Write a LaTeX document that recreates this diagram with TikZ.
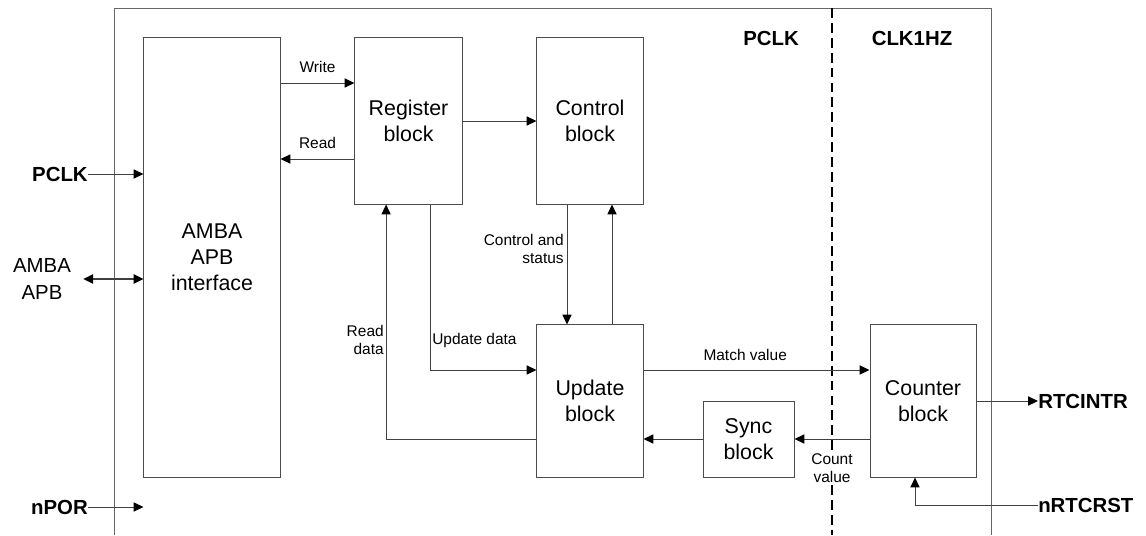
\documentclass[tikz,border=0pt]{standalone}
\usepackage{fontspec}
\setmainfont{Liberation Sans}
\usetikzlibrary{arrows.meta}

\tikzset{
  blk/.style={draw=black!70, line width=0.7pt, inner sep=0pt, align=center,
    font=\fontsize{15.2}{18.5}\selectfont},
  lbl/.style={inner sep=0pt, align=center, font=\fontsize{11}{12.8}\selectfont},
  pin/.style={inner sep=0pt, font=\fontsize{14.5}{17}\selectfont\bfseries},
  sig/.style={->, draw=black!75, line width=0.6pt},
}

\begin{document}
\begin{tikzpicture}[x=0.025cm,y=-0.025cm,
    >={Triangle[length=7pt,width=6.5pt,color=black]}]
  \useasboundingbox (0,0) rectangle (1146,535);
  % outline and clock domains
  \draw[black!60, line width=0.7pt] (114,535) -- (114,8) -- (991,8) -- (991,535);
  \draw[line width=1.9pt, dash pattern=on 7pt off 3.6pt] (832,8) -- (832,535);
  \node[pin] (pclkdom) at (771,38) {PCLK};
  \node[pin] (clkdom) at (912,38) {CLK1HZ};

  % blocks
  \node[blk, minimum width=3.4cm, minimum height=10.975cm] (amba) at (212,257.5) {AMBA\\APB\\interface};
  \node[blk, minimum width=2.675cm, minimum height=4.15cm] (reg) at (408.5,121) {Register\\block};
  \node[blk, minimum width=2.65cm, minimum height=4.15cm] (ctrl) at (590,121) {Control\\block};
  \node[blk, minimum width=2.65cm, minimum height=3.8cm] (upd) at (590,401) {Update\\block};
  \node[blk, minimum width=2.275cm, minimum height=1.9cm] (sync) at (748.5,439) {Sync\\block};
  \node[blk, minimum width=2.65cm, minimum height=3.8cm] (cnt) at (923,401) {Counter\\block};

  % pins
  \node[pin, anchor=east] (pclk) at (88,174) {PCLK};
  \node[align=center, inner sep=0pt, font=\fontsize{14.5}{19}\selectfont] (apbbus) at (42,279) {AMBA\\APB};
  \node[pin, anchor=east] (npor) at (88,507) {nPOR};
  \node[pin, anchor=west] (rtcintr) at (1038,401) {RTCINTR};
  \node[pin, anchor=west] (nrtcrst) at (1038,505) {nRTCRST};

  \draw[sig] (pclk.east) -- (amba.west |- pclk.east);
  \draw[sig, <->, line width=1.2pt] ([xshift=0.3cm]apbbus.east) -- (amba.west |- apbbus.east);
  \draw[sig] (npor.east) -- (amba.west |- npor.east);

  % bus side
  \coordinate (wr) at ([yshift=0.95cm]reg.west);
  \coordinate (rd) at ([yshift=-0.95cm]reg.west);
  \draw[sig] (amba.east |- wr) -- node[lbl, above=7pt] {Write} (wr);
  \draw[sig] (rd) -- node[lbl, above=7pt] {Read} (amba.east |- rd);
  \draw[sig] (reg.east) -- (ctrl.west);

  \draw[sig] ([xshift=0.56cm]reg.south) |- ([yshift=0.775cm]upd.west);
  \node[lbl, anchor=west] (updlbl) at (432,340) {Update data};
  \draw[sig] (upd.west |- sync.west) -| ([xshift=-0.56cm]reg.south);
  \node[lbl, anchor=east, align=right] (rdlbl) at (384,340) {Read\\data};

  \draw[sig] ([xshift=-0.575cm]ctrl.south) -- ([xshift=-0.575cm]upd.north);
  \node[lbl, anchor=east, align=right] (cslbl) at (564,249) {Control and\\status};
  \draw[sig] ([xshift=0.55cm]upd.north) -- ([xshift=0.55cm]ctrl.south);

  % 1 Hz side
  \draw[sig] ([yshift=0.775cm]upd.east) -- node[lbl, above=6pt, pos=0.45] {Match value} ([yshift=0.775cm]cnt.west);
  \draw[sig] (sync.west) -- (upd.east |- sync.west);
  \draw[sig] (cnt.west |- sync.east) -- (sync.east);
  \node[lbl, fill=white, inner sep=1pt] (cntlbl) at (832,468) {Count\\value};

  \draw[sig] (cnt.east) -- (rtcintr.west);
  \draw[sig] (nrtcrst.west) -| ([xshift=-0.2cm]cnt.south);
\end{tikzpicture}
\end{document}
